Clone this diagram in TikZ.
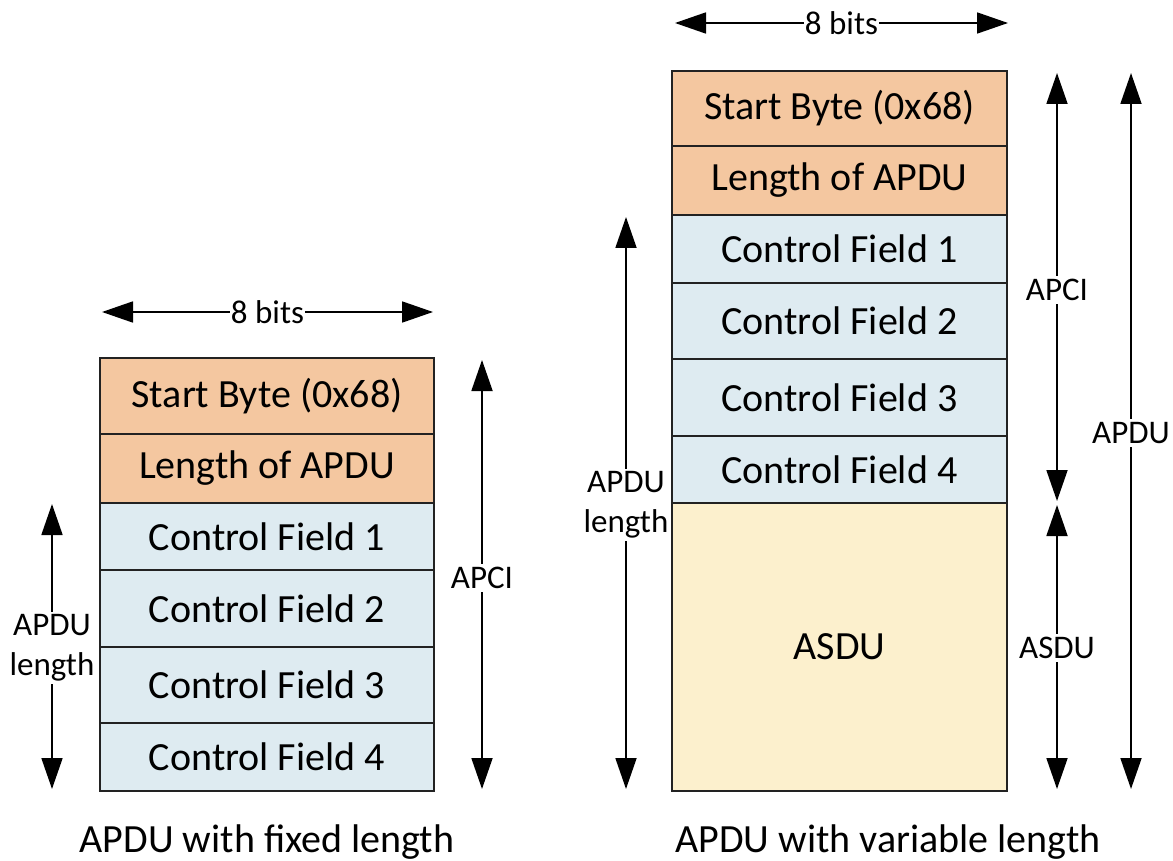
\documentclass[tikz,border=0pt]{standalone}
\usepackage{fontspec}
\setmainfont{Carlito}
\usetikzlibrary{arrows.meta}
\definecolor{hdr}{HTML}{F4C7A0}
\definecolor{ctl}{HTML}{DEEBF1}
\definecolor{asd}{HTML}{FCF0CD}
\definecolor{edge}{HTML}{222222}
\tikzset{
  cell/.style={draw=edge, line width=2.2pt, minimum width=334pt, inner sep=0pt,
    font=\fontsize{40}{46}\selectfont, text=black},
  hcell/.style={cell, fill=hdr},
  ccell/.style={cell, fill=ctl},
  acell/.style={cell, fill=asd},
  dim/.style={line width=1.8pt, draw=black,
    {Triangle[length=31pt,width=21pt]}-{Triangle[length=31pt,width=21pt]}},
  lbl/.style={fill=white, inner sep=3pt, font=\fontsize{33}{40}\selectfont, align=center},
  wlbl/.style={fill=white, inner xsep=1pt, inner ysep=0pt, font=\fontsize{33}{38}\selectfont},
  captxt/.style={font=\fontsize{40}{46}\selectfont}
}
\begin{document}
\begin{tikzpicture}[x=1pt,y=-1pt]
\useasboundingbox (0,0) rectangle (1173,861);
% ---------- left: fixed length ----------
\node[hcell, minimum height=76pt] (ls) at (267,396) {Start Byte (0x68)};
\node[hcell, minimum height=69pt] (ll) at (267,468.5) {Length of APDU};
\node[ccell, minimum height=67pt] (lc1) at (267,536.5) {Control Field 1};
\node[ccell, minimum height=77pt] (lc2) at (267,608.5) {Control Field 2};
\node[ccell, minimum height=76pt] (lc3) at (267,685) {Control Field 3};
\node[ccell, minimum height=68pt] (lc4) at (267,757) {Control Field 4};
\coordinate (lbA) at (102,312);
\coordinate (lbB) at (433,312);
\draw[dim] (lbA) -- (lbB) node[wlbl, midway] (lbits) {8 bits};
\coordinate (lpA) at (482,360);
\coordinate (lpB) at (482,789);
\draw[dim] (lpA) -- (lpB);
\node[lbl] (lapci) at (482,578) {APCI};
\coordinate (llA) at (52,504);
\coordinate (llB) at (52,789);
\draw[dim] (llA) -- (llB);
\node[lbl, inner xsep=1pt] (llen) at (52,648) {APDU\\length};
\node[captxt] (lcap) at (267,842) {APDU with fixed length};
% ---------- right: variable length ----------
\node[hcell, minimum width=335pt, minimum height=75pt] (rs) at (839.5,108.5) {Start Byte (0x68)};
\node[hcell, minimum width=335pt, minimum height=69pt] (rl) at (839.5,180.5) {Length of APDU};
\node[ccell, minimum width=335pt, minimum height=68pt] (rc1) at (839.5,249) {Control Field 1};
\node[ccell, minimum width=335pt, minimum height=76pt] (rc2) at (839.5,321) {Control Field 2};
\node[ccell, minimum width=335pt, minimum height=77pt] (rc3) at (839.5,397.5) {Control Field 3};
\node[ccell, minimum width=335pt, minimum height=67pt] (rc4) at (839.5,469.5) {Control Field 4};
\node[acell, minimum width=335pt, minimum height=288pt] (rasdu) at (839.5,647) {ASDU};
\coordinate (rbA) at (675,23);
\coordinate (rbB) at (1008,23);
\draw[dim] (rbA) -- (rbB) node[wlbl, pos=0.5] (rbits) {8 bits};
\coordinate (rpA) at (1057,73);
\coordinate (rpB) at (1057,501);
\draw[dim] (rpA) -- (rpB);
\node[lbl] (rapci) at (1057,290) {APCI};
\coordinate (raA) at (1057,505);
\coordinate (raB) at (1057,789);
\draw[dim] (raA) -- (raB);
\node[lbl] (rasdul) at (1057,648) {ASDU};
\coordinate (rdA) at (1131,73);
\coordinate (rdB) at (1131,789);
\draw[dim] (rdA) -- (rdB);
\node[lbl, inner xsep=1pt] (rapdu) at (1131,433) {APDU};
\coordinate (rlA) at (626,217);
\coordinate (rlB) at (626,789);
\draw[dim] (rlA) -- (rlB);
\node[lbl, inner xsep=1pt] (rlen) at (626,505) {APDU\\length};
\node[captxt] (rcap) at (888,842) {APDU with variable length};
\end{tikzpicture}
\end{document}
